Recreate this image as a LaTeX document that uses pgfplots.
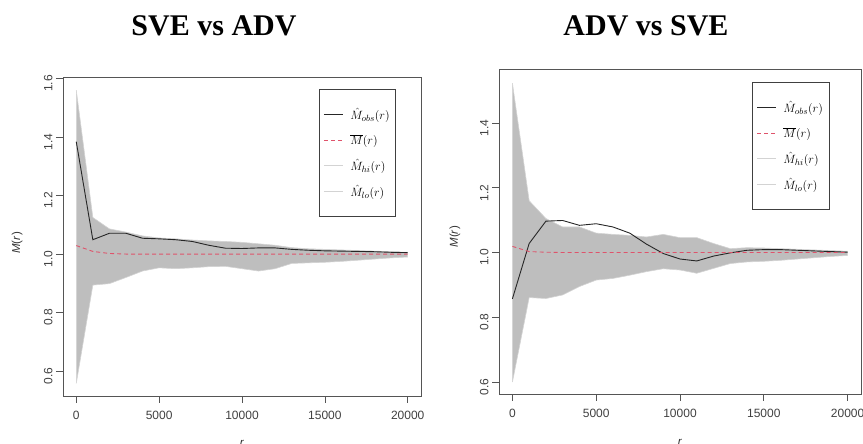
\documentclass[border=0pt]{standalone}
\usepackage{fontspec}
\setmainfont{Liberation Serif}
\setsansfont{Liberation Sans}
\usepackage{pgfplots}
\pgfplotsset{compat=1.18}
\usepackage{pgfplotstable}
\usepgfplotslibrary{fillbetween}

\definecolor{shade}{HTML}{BEBEBE}
\definecolor{envl}{HTML}{D3D3D3}
\definecolor{rred}{HTML}{DF536B}
\definecolor{axgray}{HTML}{555555}

\pgfplotstableread{
r obs mean hi lo
0 1.384 1.029 1.560 0.558
1000 1.049 1.009 1.125 0.894
2000 1.071 1.002 1.086 0.899
3000 1.071 1.000 1.075 0.920
4000 1.054 1.000 1.062 0.942
5000 1.052 1.000 1.055 0.953
6000 1.049 1.000 1.052 0.950
7000 1.043 1.000 1.048 0.953
8000 1.030 1.000 1.045 0.957
9000 1.020 1.000 1.043 0.958
10000 1.019 1.000 1.040 0.950
11000 1.021 1.000 1.035 0.942
12000 1.021 1.000 1.030 0.950
13000 1.016 1.000 1.022 0.968
14000 1.013 1.000 1.018 0.970
15000 1.011 1.000 1.016 0.972
16000 1.010 1.000 1.014 0.975
17000 1.009 1.000 1.012 0.979
18000 1.008 1.000 1.010 0.983
19000 1.006 1.000 1.008 0.987
20000 1.005 1.000 1.006 0.990
}\leftdata

\pgfplotstableread{
r obs mean hi lo
0 0.857 1.019 1.523 0.600
1000 1.028 1.003 1.160 0.861
2000 1.097 1.001 1.105 0.858
3000 1.099 1.000 1.079 0.869
4000 1.084 1.000 1.079 0.895
5000 1.089 1.000 1.060 0.915
6000 1.079 1.000 1.056 0.920
7000 1.060 1.000 1.053 0.930
8000 1.026 1.000 1.048 0.941
9000 0.997 1.000 1.056 0.950
10000 0.980 1.000 1.046 0.946
11000 0.974 1.000 1.046 0.936
12000 0.989 1.000 1.028 0.951
13000 0.999 1.000 1.012 0.966
14000 1.007 1.000 1.015 0.971
15000 1.009 1.000 1.014 0.973
16000 1.009 1.000 1.012 0.976
17000 1.007 1.000 1.010 0.980
18000 1.005 1.000 1.008 0.984
19000 1.003 1.000 1.006 0.988
20000 1.001 1.000 1.004 0.991
}\rightdata

\pgfplotsset{
  rstyle/.style={
    scale only axis,
    xmin=-800, xmax=20800,
    xtick={0,5000,10000,15000,20000},
    ytick={0.6,0.8,1.0,1.2,1.4,1.6},
    scaled x ticks=false,
    tick align=outside,
    major tick length=7pt,
    xtick pos=left, ytick pos=left,
    axis line style={draw=axgray, line width=0.7pt},
    tick style={draw=axgray, line width=0.7pt},
    /pgf/number format/assume math mode=true,
    every tick label/.append style={font=\sffamily\fontsize{12}{13}\selectfont, text=black!75},
    xticklabel style={/pgf/number format/1000 sep={}, yshift=-5pt},
    yticklabel style={rotate=90, anchor=south, xshift=-5pt,
      /pgf/number format/fixed, /pgf/number format/precision=1,
      /pgf/number format/fixed zerofill},
    xlabel={\textit{r}},
    ylabel={\textit{M}(\textit{r})},
    label style={font=\sffamily\fontsize{11.5}{13}\selectfont, text=black!80},
    xlabel style={at={(axis description cs:0.5,-0.128)}, anchor=north},
    legend image code/.code={\draw[#1] (0pt,0pt) -- (19pt,0pt);},
    legend style={anchor=north east, draw=black!75, line width=0.6pt,
      font=\fontsize{13}{15}\selectfont, row sep=9pt,
      inner xsep=4pt, inner ysep=17pt,
      cells={anchor=west}},
  },
  obsstyle/.style={black!85, line width=0.9pt},
  meanstyle/.style={rred, line width=0.9pt, dash pattern=on 4pt off 3pt},
  envstyle/.style={envl, line width=0.6pt},
}

\begin{document}
\begin{tikzpicture}[x=1pt,y=1pt]

\node[anchor=base, font=\fontsize{30}{34}\selectfont\bfseries] at (214,408) {SVE vs ADV};
\node[anchor=base, font=\fontsize{30}{34}\selectfont\bfseries] at (646,408) {ADV vs SVE};

\begin{axis}[rstyle,
  at={(63pt,48pt)}, anchor=south west,
  width=358pt, height=319pt,
  ymin=0.515, ymax=1.605,
  ylabel style={at={(axis description cs:-0.128,0.48)}, anchor=center},
  legend style={at={(0.93,0.962)}},
]
\addplot[envstyle, name path=hi, forget plot] table[x=r, y=hi] {\leftdata};
\addplot[envstyle, name path=lo, forget plot] table[x=r, y=lo] {\leftdata};
\addplot[fill=shade, draw=none, forget plot] fill between[of=hi and lo];
\addplot[obsstyle] table[x=r, y=obs] {\leftdata};
\addlegendentry{\hspace{5pt}$\hat{M}_{obs}(r)$}
\addplot[meanstyle] table[x=r, y=mean] {\leftdata};
\addlegendentry{\hspace{5pt}$\overline{M}(r)$}
\addlegendimage{envstyle}
\addlegendentry{\hspace{5pt}$\hat{M}_{hi}(r)$}
\addlegendimage{envstyle}
\addlegendentry{\hspace{5pt}$\hat{M}_{lo}(r)$}
\end{axis}

\begin{axis}[rstyle,
  at={(499pt,50pt)}, anchor=south west,
  width=362pt, height=325pt,
  ymin=0.563, ymax=1.567,
  ytick={0.6,0.8,1.0,1.2,1.4},
  ylabel style={at={(axis description cs:-0.122,0.484)}, anchor=center},
  legend style={at={(0.912,0.96)}},
]
\addplot[envstyle, name path=hi, forget plot] table[x=r, y=hi] {\rightdata};
\addplot[envstyle, name path=lo, forget plot] table[x=r, y=lo] {\rightdata};
\addplot[fill=shade, draw=none, forget plot] fill between[of=hi and lo];
\addplot[obsstyle] table[x=r, y=obs] {\rightdata};
\addlegendentry{\hspace{5pt}$\hat{M}_{obs}(r)$}
\addplot[meanstyle] table[x=r, y=mean] {\rightdata};
\addlegendentry{\hspace{5pt}$\overline{M}(r)$}
\addlegendimage{envstyle}
\addlegendentry{\hspace{5pt}$\hat{M}_{hi}(r)$}
\addlegendimage{envstyle}
\addlegendentry{\hspace{5pt}$\hat{M}_{lo}(r)$}
\end{axis}

\pgfresetboundingbox
\path[use as bounding box] (0,0) rectangle (863,444);
\end{tikzpicture}
\end{document}
